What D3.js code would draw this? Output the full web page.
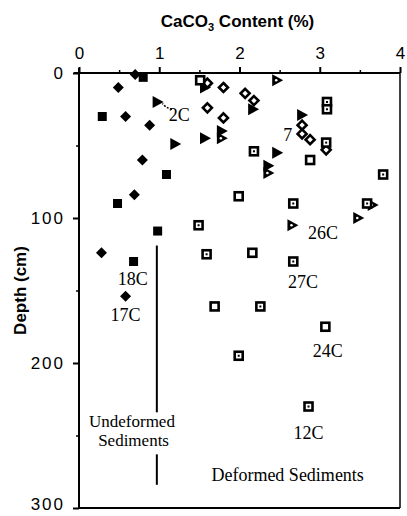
<!DOCTYPE html>
<html><head><meta charset="utf-8">
<script src="https://cdn.jsdelivr.net/npm/d3@7"></script>
<style>body{margin:0;background:#fff}svg{display:block}</style>
</head><body><svg id="c" width="407" height="516"></svg>
<script>
// CaCO3 content (%) vs depth (cm)
const core17C = [[0.70,1],[0.49,10],[0.58,30],[0.88,36],[0.79,60],[0.69,84],[0.28,124],[0.58,154]]; // filled diamonds
const core18C = [[0.80,3],[0.29,30],[1.09,70],[0.48,90],[0.98,109],[0.68,130]]; // filled squares
const core2C = [[0.98,20],[1.20,49],[1.57,45],[1.78,40],[1.57,10],[2.17,25],[2.78,29],[2.47,55],[2.36,64]]; // filled triangles
const core26C = [[2.47,5],[1.78,45],[2.36,69],[2.66,105],[3.48,100],[3.66,91]]; // triangles with dot
const core7 = [[1.60,7],[1.80,10],[1.60,24],[1.80,31],[2.07,14],[2.18,19],[2.78,36],[2.78,42],[2.88,46],[3.08,53]]; // open diamonds
const squaresDot = [[3.09,20],[3.09,25],[2.18,54],[3.08,48],[3.79,70],[1.49,105],[1.59,125],[2.67,90],[3.59,90],[2.67,130],[2.26,161],[1.99,195],[2.86,230]]; // 12C/27C
const squaresOpen = [[1.51,5],[2.88,60],[1.99,85],[2.16,124],[1.69,161],[3.07,175]]; // 24C
const xTicks = [0,1,2,3,4];
const yTicks = [0,100,200,300];
const labels = [["2C",1.25,29],["7",2.6,43],["26C",3.04,110],["27C",2.79,144],["24C",3.1,192],["12C",2.86,248],["18C",0.67,142],["17C",0.58,167]];

const svg = d3.select("#c");
const L = 79, R = 400, T = 73, B = 508;
const x = d3.scaleLinear().domain([0,4]).range([L,R]);
const y = d3.scaleLinear().domain([0,300]).range([T,B]);

// axes
const xAx = d3.axisTop(x).tickValues(xTicks).tickSize(6).tickPadding(8).tickFormat(d3.format("d"));
const gx = svg.append("g").attr("transform",`translate(0,${T})`).call(xAx);
gx.select(".domain").attr("d",`M${L-5},0H${R}`).attr("stroke-width",2);
gx.selectAll(".tick line").attr("stroke-width",2);
gx.selectAll("text").attr("font-family","Liberation Sans, Arial, sans-serif").attr("font-size",17).attr("fill","#000");
svg.append("g").attr("transform",`translate(0,${T})`).call(d3.axisTop(x).tickValues(d3.range(0.5,4,1)).tickSize(3).tickFormat(""))
  .call(g=>{g.select(".domain").remove();g.selectAll("line").attr("stroke-width",1.5);});

const yAx = d3.axisLeft(y).tickValues(yTicks).tickSize(6).tickPadding(8).tickFormat(d3.format("d"));
const gy = svg.append("g").attr("transform",`translate(${L},0)`).call(yAx);
gy.select(".domain").attr("d",`M0,${T-5}V${B}`).attr("stroke-width",2);
gy.selectAll(".tick line").attr("stroke-width",2);
gy.selectAll("text").attr("font-family","Liberation Sans, Arial, sans-serif").attr("font-size",17).attr("letter-spacing","2px").attr("fill","#000")
  .attr("dy",d=>d===300?"0.1em":"0.32em");
svg.append("g").attr("transform",`translate(${L},0)`).call(d3.axisLeft(y).tickValues([50,150,250]).tickSize(3).tickFormat(""))
  .call(g=>{g.select(".domain").remove();g.selectAll("line").attr("stroke-width",1.5);});

// frame right & bottom
svg.append("line").attr("x1",R).attr("x2",R).attr("y1",T).attr("y2",B).attr("stroke","#000").attr("stroke-width",1.5);
svg.append("line").attr("x1",L).attr("x2",R).attr("y1",B).attr("y2",B).attr("stroke","#000").attr("stroke-width",2);

// titles
const tt = svg.append("text").attr("x",(L+R)/2-2).attr("y",27).attr("text-anchor","middle")
  .attr("font-family","Liberation Sans, Arial, sans-serif").attr("font-weight","bold").attr("font-size",17);
tt.append("tspan").text("CaCO");
tt.append("tspan").text("3").attr("font-size",11).attr("dy",4);
tt.append("tspan").text(" Content (%)").attr("dy",-4);
svg.append("text").attr("transform",`translate(26,${(T+B)/2}) rotate(-90)`).attr("text-anchor","middle")
  .attr("font-family","Liberation Sans, Arial, sans-serif").attr("font-weight","bold").attr("font-size",17).text("Depth (cm)");

// markers
const g = svg.append("g");
function diamondPath(s){return `M0,${-s}L${s},0L0,${s}L${-s},0Z`;}
g.selectAll(".fd").data(core17C).join("path").attr("d",diamondPath(5.5))
  .attr("transform",d=>`translate(${x(d[0])},${y(d[1])})`).attr("fill","#000");
g.selectAll(".fs").data(core18C).join("rect").attr("x",d=>x(d[0])-4.5).attr("y",d=>y(d[1])-4.5).attr("width",9).attr("height",9).attr("fill","#000");
const tri = "M-5,-6L6,0L-5,6Z";
g.selectAll(".ft").data(core2C).join("path").attr("d",tri).attr("transform",d=>`translate(${x(d[0])},${y(d[1])})`).attr("fill","#000");
g.selectAll(".dt").data(core26C).join("path").attr("d",tri).attr("transform",d=>`translate(${x(d[0])},${y(d[1])})`).attr("fill","#000");
g.selectAll(".dtd").data(core26C).join("circle").attr("cx",d=>x(d[0])-1).attr("cy",d=>y(d[1])).attr("r",1.3).attr("fill","#fff");
g.selectAll(".od").data(core7).join("path").attr("d",diamondPath(4.5))
  .attr("transform",d=>`translate(${x(d[0])},${y(d[1])})`).attr("fill","#fff").attr("stroke","#000").attr("stroke-width",2.6);
g.selectAll(".sd").data(squaresDot).join("rect").attr("x",d=>x(d[0])-4).attr("y",d=>y(d[1])-4).attr("width",8).attr("height",8)
  .attr("fill","#fff").attr("stroke","#000").attr("stroke-width",2.6);
g.selectAll(".sdd").data(squaresDot).join("rect").attr("x",d=>x(d[0])-1).attr("y",d=>y(d[1])-1).attr("width",2).attr("height",2).attr("fill","#000");
g.selectAll(".so").data(squaresOpen).join("rect").attr("x",d=>x(d[0])-4).attr("y",d=>y(d[1])-4).attr("width",8).attr("height",8)
  .attr("fill","#fff").attr("stroke","#000").attr("stroke-width",2.6);

// annotations
const serif = "Liberation Serif, Times New Roman, serif";
g.selectAll(".lab").data(labels).join("text").attr("x",d=>x(d[1])).attr("y",d=>y(d[2])).attr("text-anchor","middle")
  .attr("dominant-baseline","central").attr("font-family",serif).attr("font-size",18).text(d=>d[0]);
svg.append("path").attr("d",`M${x(1.16)},${y(25)}Q${x(1.08)},${y(24)} ${x(1.04)},${y(21)}`).attr("fill","none").attr("stroke","#000").attr("stroke-width",1.5).attr("stroke-dasharray","2,1.5");
const lx = x(0.97);
svg.append("line").attr("x1",lx).attr("x2",lx).attr("y1",y(119)).attr("y2",y(234)).attr("stroke","#000").attr("stroke-width",2);
svg.append("line").attr("x1",lx).attr("x2",lx).attr("y1",y(263)).attr("y2",y(284)).attr("stroke","#000").attr("stroke-width",2);
svg.append("text").attr("x",x(0.66)).attr("y",y(240.5)).attr("text-anchor","middle").attr("dominant-baseline","central").attr("font-family",serif).attr("font-size",17).text("Undeformed");
svg.append("text").attr("x",x(0.68)).attr("y",y(253.5)).attr("text-anchor","middle").attr("dominant-baseline","central").attr("font-family",serif).attr("font-size",17).text("Sediments");
svg.append("text").attr("x",x(2.6)).attr("y",y(277)).attr("text-anchor","middle").attr("dominant-baseline","central").attr("font-family",serif).attr("font-size",18).text("Deformed Sediments");
</script></body></html>
